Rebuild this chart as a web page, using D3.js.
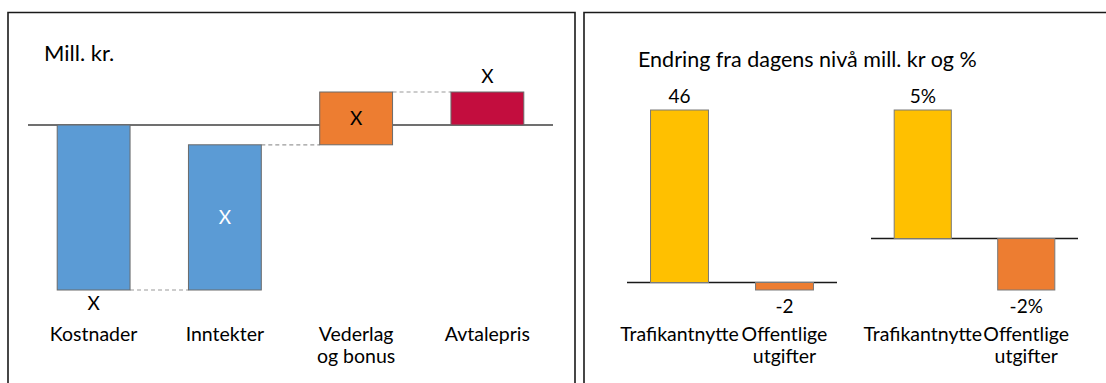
<!DOCTYPE html>
<html>
<head>
<meta charset="utf-8">
<script src="https://cdn.jsdelivr.net/npm/d3@7"></script>
<style>
  html, body { margin: 0; padding: 0; background: #fff; }
  svg { display: block; font-family: Lato, "Liberation Sans", sans-serif; }
</style>
</head>
<body>
<svg id="chart" width="1106" height="383"></svg>
<script>
// Waterfall: cost, income, compensation and resulting contract price
const wfCategories = [["Kostnader"], ["Inntekter"], ["Vederlag", "og bonus"], ["Avtalepris"]];
const wfValues = [-10, 8.8, 3.2, 2];          // last entry is the resulting total
const wfLabels = ["X", "X", "X", "X"];
const wfKinds = ["cost", "income", "bonus", "total"];

// Effect charts: change from today's level
const effectCategories = [["Trafikantnytte"], ["Offentlige", "utgifter"]];
const millValues = [46, -2];
const millLabels = ["46", "-2"];
const pctValues = [5, -2];
const pctLabels = ["5%", "-2%"];

const colors = { cost: "#5B9BD5", income: "#5B9BD5", bonus: "#ED7D31", total: "#C30D3E",
                 benefit: "#FFC000", spend: "#ED7D31" };

const svg = d3.select("#chart");

// Panel frames
svg.append("path")
  .attr("d", "M8,400 V12.5 H575 V400")
  .attr("fill", "none").attr("stroke", "#1a1a1a").attr("stroke-width", 1.6);
svg.append("path")
  .attr("d", "M584,400 V12.5 H1120")
  .attr("fill", "none").attr("stroke", "#1a1a1a").attr("stroke-width", 1.6);

// ---------- Waterfall ----------
const wf = svg.append("g");
wf.append("text").attr("x", 44).attr("y", 61).attr("font-size", 22).attr("fill", "#000").text("Mill. kr.");

const steps = [];
let run = 0;
wfValues.forEach((v, i) => {
  if (wfKinds[i] === "total") { steps.push({ i, start: 0, end: v }); run = v; }
  else { steps.push({ i, start: run, end: run + v }); run += v; }
});
const wfMin = d3.min(steps, d => Math.min(d.start, d.end));
const wfMax = d3.max(steps, d => Math.max(d.start, d.end));

const xw = d3.scaleBand().domain(d3.range(wfValues.length)).range([28, 553])
  .paddingInner(0.445).paddingOuter(0.2225);
const yw = d3.scaleLinear().domain([wfMin, wfMax]).range([290, 92]);

wf.append("line").attr("x1", 28).attr("x2", 553).attr("y1", yw(0)).attr("y2", yw(0))
  .attr("stroke", "#404040").attr("stroke-width", 1.5);

// connectors between consecutive bars
steps.slice(0, -1).forEach((s, k) => {
  wf.append("line")
    .attr("x1", xw(k) + xw.bandwidth()).attr("x2", xw(k + 1))
    .attr("y1", yw(s.end)).attr("y2", yw(s.end))
    .attr("stroke", "#9a9a9a").attr("stroke-width", 1.2).attr("stroke-dasharray", "4,3");
});

wf.selectAll("rect.bar").data(steps).join("rect")
  .attr("class", "bar")
  .attr("x", d => xw(d.i)).attr("width", xw.bandwidth())
  .attr("y", d => yw(Math.max(d.start, d.end)))
  .attr("height", d => Math.abs(yw(d.start) - yw(d.end)))
  .attr("fill", d => colors[wfKinds[d.i]])
  .attr("stroke", "#6a6a6a").attr("stroke-width", 1);

wf.selectAll("text.val").data(steps).join("text")
  .attr("class", "val")
  .attr("text-anchor", "middle").attr("font-size", 19)
  .attr("x", d => xw(d.i) + xw.bandwidth() / 2)
  .attr("y", d => {
    const k = wfKinds[d.i];
    if (k === "cost") return yw(d.end) + 20;
    if (k === "total") return yw(d.end) - 9;
    return (yw(d.start) + yw(d.end)) / 2 + 7;
  })
  .attr("fill", d => wfKinds[d.i] === "income" ? "#fff" : "#000")
  .text(d => wfLabels[d.i]);

// category labels, one text per line
wfCategories.forEach((lines, i) => {
  const cx = xw(i) + xw.bandwidth() / 2;
  lines.forEach((ln, j) => wf.append("text").attr("text-anchor", "middle").attr("font-size", 19.5)
    .attr("x", cx).attr("y", 341 + j * 22).text(ln));
});

// ---------- Effect charts ----------
svg.append("text").attr("x", 638).attr("y", 67).attr("font-size", 21.5).attr("fill", "#000")
  .text("Endring fra dagens nivå mill. kr og %");

function effectChart(values, labels, x0, x1) {
  const g = svg.append("g");
  const x = d3.scaleBand().domain(d3.range(values.length)).range([x0, x1])
    .paddingInner(0.448).paddingOuter(0.224);
  const y = d3.scaleLinear().domain([d3.min(values), d3.max(values)]).range([290, 110]);
  const fills = [colors.benefit, colors.spend];

  g.append("line").attr("x1", x0).attr("x2", x1).attr("y1", y(0)).attr("y2", y(0))
    .attr("stroke", "#1a1a1a").attr("stroke-width", 1.5);

  g.selectAll("rect").data(values).join("rect")
    .attr("x", (d, i) => x(i)).attr("width", x.bandwidth())
    .attr("y", d => y(Math.max(0, d))).attr("height", d => Math.abs(y(d) - y(0)))
    .attr("fill", (d, i) => fills[i]).attr("stroke", "#7a7a7a").attr("stroke-width", 1);

  g.selectAll("text.val").data(values).join("text")
    .attr("class", "val").attr("text-anchor", "middle").attr("font-size", 19)
    .attr("x", (d, i) => x(i) + x.bandwidth() / 2)
    .attr("y", d => d >= 0 ? y(d) - 7 : y(d) + 23)
    .text((d, i) => labels[i]);

  effectCategories.forEach((lines, i) => {
    const cx = x(i) + x.bandwidth() / 2;
    lines.forEach((ln, j) => g.append("text").attr("text-anchor", "middle").attr("font-size", 19.5)
      .attr("x", cx).attr("y", 341 + j * 22).text(ln));
  });
}

effectChart(millValues, millLabels, 627, 837);
effectChart(pctValues, pctLabels, 871, 1078);
</script>
</body>
</html>
